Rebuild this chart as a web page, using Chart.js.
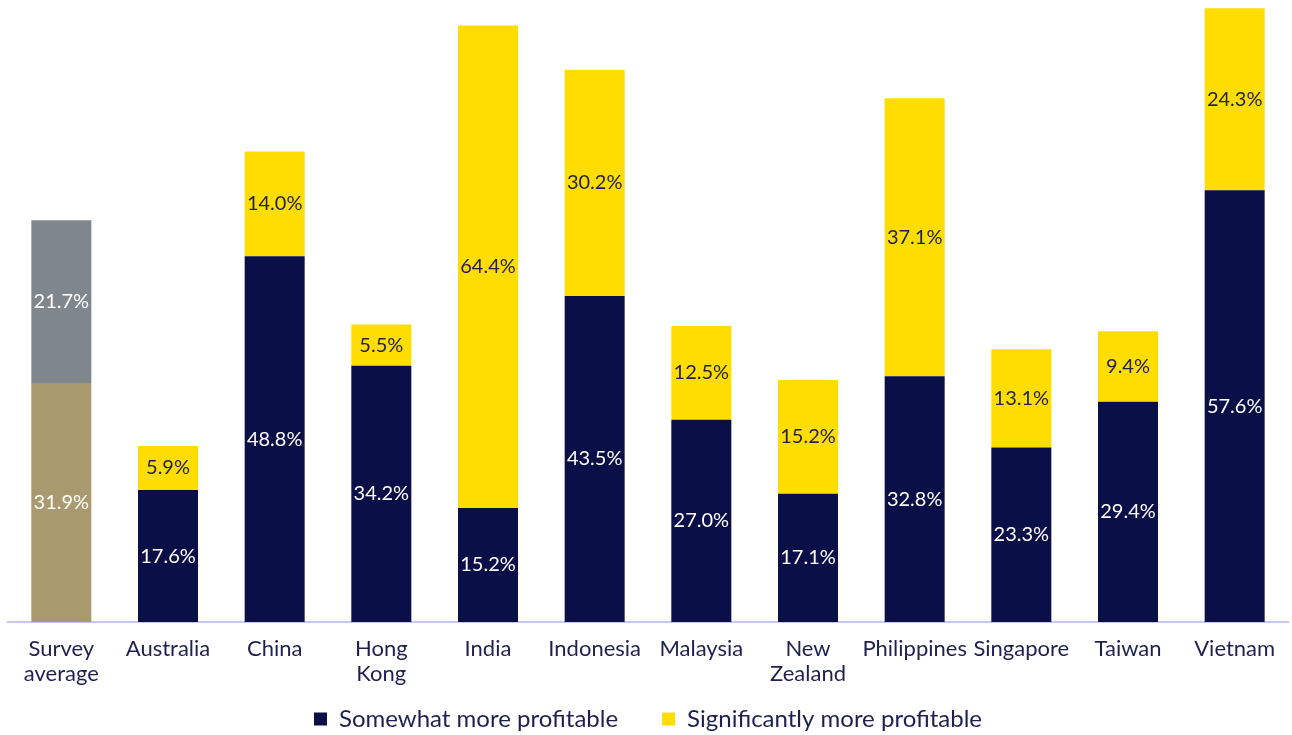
<!DOCTYPE html>
<html>
<head>
<meta charset="utf-8">
<script src="https://cdn.jsdelivr.net/npm/chart.js@4.4.0/dist/chart.umd.min.js"></script>
<style>
    html, body { margin: 0; padding: 0; background: #ffffff; }
    #wrap { width: 1292px; height: 735px; position: relative; }
</style>
</head>
<body>
<div id="wrap"><canvas id="profitChart"></canvas></div>
<script>
// Data
const categories = [
    ['Survey', 'average'], 'Australia', 'China', ['Hong', 'Kong'], 'India', 'Indonesia',
    'Malaysia', ['New', 'Zealand'], 'Philippines', 'Singapore', 'Taiwan', 'Vietnam'
];
const somewhatMore = [31.9, 17.6, 48.8, 34.2, 15.2, 43.5, 27.0, 17.1, 32.8, 23.3, 29.4, 57.6];
const significantlyMore = [21.7, 5.9, 14.0, 5.5, 64.4, 30.2, 12.5, 15.2, 37.1, 13.1, 9.4, 24.3];

// Colours
const NAVY = '#0b0f47';
const YELLOW = '#ffdd00';
const TAN = '#a8996e';
const GREY = '#7f878c';
const TEXT = '#1e2150';
const FONT = 'Lato, "Noto Sans", sans-serif';

// first bar (survey average) uses its own colours
const somewhatColors = somewhatMore.map((v, i) => i === 0 ? TAN : NAVY);
const significantColors = significantlyMore.map((v, i) => i === 0 ? GREY : YELLOW);

// Simple inline label plugin: value in the middle of each segment
const segmentLabels = {
    id: 'segmentLabels',
    afterDatasetsDraw(chart) {
        const ctx = chart.ctx;
        ctx.save();
        ctx.font = '20px ' + FONT;
        ctx.textAlign = 'center';
        ctx.textBaseline = 'middle';
        chart.data.datasets.forEach((ds, di) => {
            const meta = chart.getDatasetMeta(di);
            meta.data.forEach((bar, i) => {
                const mid = (bar.y + bar.base) / 2;
                ctx.fillStyle = (di === 1 && i !== 0) ? TEXT : '#ffffff';
                ctx.fillText(ds.data[i].toFixed(1) + '%', bar.x, mid);
            });
        });
        ctx.restore();
    }
};

const ctx = document.getElementById('profitChart').getContext('2d');
new Chart(ctx, {
    type: 'bar',
    data: {
        labels: categories,
        datasets: [
            {
                label: 'Somewhat more profitable',
                data: somewhatMore,
                backgroundColor: somewhatColors,
                borderWidth: 0
            },
            {
                label: 'Significantly more profitable',
                data: significantlyMore,
                backgroundColor: significantColors,
                borderWidth: 0
            }
        ]
    },
    options: {
        responsive: true,
        maintainAspectRatio: false,
        animation: false,
        layout: {
            padding: { left: 8, right: 4, top: 0, bottom: 0 }
        },
        datasets: {
            bar: { categoryPercentage: 1.0, barPercentage: 0.5625 }
        },
        plugins: {
            tooltip: { enabled: false },
            legend: {
                position: 'bottom',
                maxHeight: 72,
                labels: {
                    color: TEXT,
                    font: { family: FONT, size: 24 },
                    boxWidth: 13,
                    boxHeight: 13,
                    padding: 44,
                    generateLabels: function(chart) {
                        return [
                            { text: 'Somewhat more profitable', fillStyle: NAVY, strokeStyle: NAVY, lineWidth: 0, datasetIndex: 0, fontColor: TEXT },
                            { text: 'Significantly more profitable', fillStyle: YELLOW, strokeStyle: YELLOW, lineWidth: 0, datasetIndex: 1, fontColor: TEXT }
                        ];
                    }
                }
            }
        },
        scales: {
            x: {
                stacked: true,
                grid: { display: false },
                border: { display: true, color: '#c5c8f0', width: 2 },
                ticks: {
                    color: TEXT,
                    font: { family: FONT, size: 22, lineHeight: 1.15 },
                    maxRotation: 0,
                    autoSkip: false,
                    padding: 6
                },
                // labels hang into the legend's empty top padding, so no clipping
                afterFit: function(scale) {
                    scale.height = 41;
                    scale._computeLabelArea = function() { return undefined; };
                }
            },
            y: {
                stacked: true,
                display: false,
                min: 0,
                max: 83
            }
        }
    },
    plugins: [segmentLabels]
});
</script>
</body>
</html>
